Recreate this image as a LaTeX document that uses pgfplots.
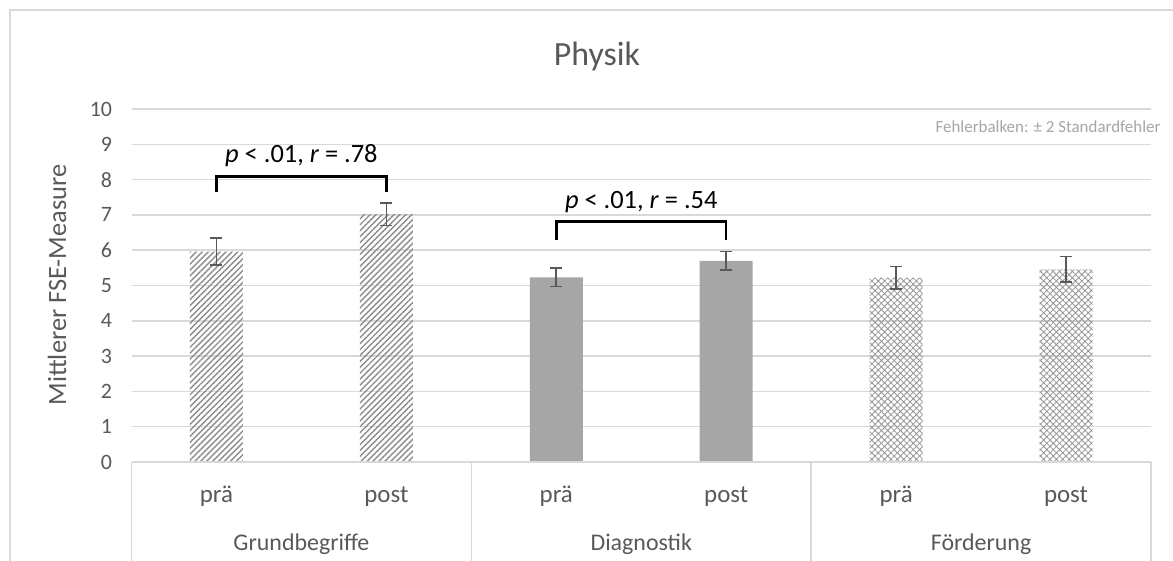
\documentclass[border=0pt]{standalone}
\usepackage{fontspec}
\setmainfont{Carlito}
\usepackage{pgfplots}
\pgfplotsset{compat=1.18}
\usetikzlibrary{patterns.meta}
\definecolor{gridc}{RGB}{217,217,217}
\definecolor{txt}{RGB}{89,89,89}
\definecolor{barg}{RGB}{166,166,166}
\definecolor{hatchc}{RGB}{140,140,140}
\definecolor{lattc}{RGB}{150,150,150}
\definecolor{notec}{RGB}{166,166,166}
\begin{document}
\begin{tikzpicture}
\path[use as bounding box] (0,0) rectangle (1173bp,-561bp);
\fill[white] (0,0) rectangle (1173bp,-561bp);
\draw[gridc, line width=1.5bp] (1173bp,-10bp) -- (10bp,-10bp) -- (10bp,-561bp);
\node[txt, anchor=base, font=\fontsize{34}{34}\selectfont] at (597bp,-65bp) {Physik};
\node[txt, rotate=90, font=\fontsize{26.5}{26.5}\selectfont] at (57bp,-285bp) {Mittlerer FSE-Measure};
\node[notec, anchor=east, font=\fontsize{17}{17}\selectfont] at (1164bp,-127bp) {Fehlerbalken: ± 2 Standardfehler};
\begin{axis}[
  at={(131.5bp,-462bp)}, anchor=south west,
  scale only axis, width=1019.5bp, height=353bp,
  xmin=-0.5, xmax=5.5, ymin=0, ymax=10,
  ytick={0,1,...,10}, xtick=\empty,
  axis line style={draw=none},
  major tick length=0pt,
  ymajorgrids, grid style={gridc, line width=1.5bp},
  yticklabel style={txt, font=\fontsize{22}{22}\selectfont, xshift=-16bp},
  /pgf/number format/assume math mode=true,
  clip=false,
  error bars/error bar style={txt, line width=1.6bp},
  error bars/error mark options={rotate=90, mark size=6bp, line width=1.6bp, txt},
]
% Grundbegriffe
\addplot[ybar, bar width=53bp, bar shift=0pt, draw=none,
  pattern={Lines[angle=45,distance=4.2bp,line width=1.4bp]}, pattern color=hatchc,
  error bars/.cd, y dir=both, y explicit]
  coordinates {(0,5.96) +- (0,0.38) (1,7.02) +- (0,0.32)};
% Diagnostik
\addplot[ybar, bar width=53bp, bar shift=0pt, draw=none, fill=barg,
  error bars/.cd, y dir=both, y explicit]
  coordinates {(2,5.23) +- (0,0.26) (3,5.70) +- (0,0.26)};
% Foerderung
\addplot[ybar, bar width=53bp, bar shift=0pt, draw=none,
  pattern={Hatch[angle=45,distance=4.5bp,line width=0.8bp]}, pattern color=lattc,
  error bars/.cd, y dir=both, y explicit]
  coordinates {(4,5.22) +- (0,0.32) (5,5.46) +- (0,0.36)};
% category box
\draw[gridc, line width=1.5bp] (axis cs:-0.5,0) -- (axis cs:5.5,0);
\draw[gridc, line width=1.5bp] (axis cs:-0.5,0) -- ([yshift=-110bp]axis cs:-0.5,0);
\draw[gridc, line width=1.5bp] (axis cs:1.5,0) -- ([yshift=-110bp]axis cs:1.5,0);
\draw[gridc, line width=1.5bp] (axis cs:3.5,0) -- ([yshift=-110bp]axis cs:3.5,0);
\draw[gridc, line width=1.5bp] (axis cs:5.5,0) -- ([yshift=-110bp]axis cs:5.5,0);
\node[txt, anchor=base, font=\fontsize{25}{25}\selectfont] at ([yshift=-40bp]axis cs:0,0) {prä};
\node[txt, anchor=base, font=\fontsize{25}{25}\selectfont] at ([yshift=-40bp]axis cs:1,0) {post};
\node[txt, anchor=base, font=\fontsize{25}{25}\selectfont] at ([yshift=-40bp]axis cs:2,0) {prä};
\node[txt, anchor=base, font=\fontsize{25}{25}\selectfont] at ([yshift=-40bp]axis cs:3,0) {post};
\node[txt, anchor=base, font=\fontsize{25}{25}\selectfont] at ([yshift=-40bp]axis cs:4,0) {prä};
\node[txt, anchor=base, font=\fontsize{25}{25}\selectfont] at ([yshift=-40bp]axis cs:5,0) {post};
\node[txt, anchor=base, font=\fontsize{24}{24}\selectfont] at ([yshift=-88bp]axis cs:0.5,0) {Grundbegriffe};
\node[txt, anchor=base, font=\fontsize{24}{24}\selectfont] at ([yshift=-88bp]axis cs:2.5,0) {Diagnostik};
\node[txt, anchor=base, font=\fontsize{24}{24}\selectfont] at ([yshift=-88bp]axis cs:4.5,0) {Förderung};
% brackets
\draw[black, line width=2.6bp] (axis cs:0,7.66) -- (axis cs:0,8.08) -- (axis cs:1,8.08) -- (axis cs:1,7.66);
\node[black, font=\fontsize{26.5}{26.5}\selectfont] at (axis cs:0.5,8.68) {\textit{p} < .01, \textit{r} = .78};
\draw[black, line width=2.6bp] (axis cs:2,6.29) -- (axis cs:2,6.81) -- (axis cs:3,6.81) -- (axis cs:3,6.29);
\node[black, font=\fontsize{26.5}{26.5}\selectfont] at (axis cs:2.5,7.35) {\textit{p} < .01, \textit{r} = .54};
\end{axis}
\end{tikzpicture}
\end{document}
